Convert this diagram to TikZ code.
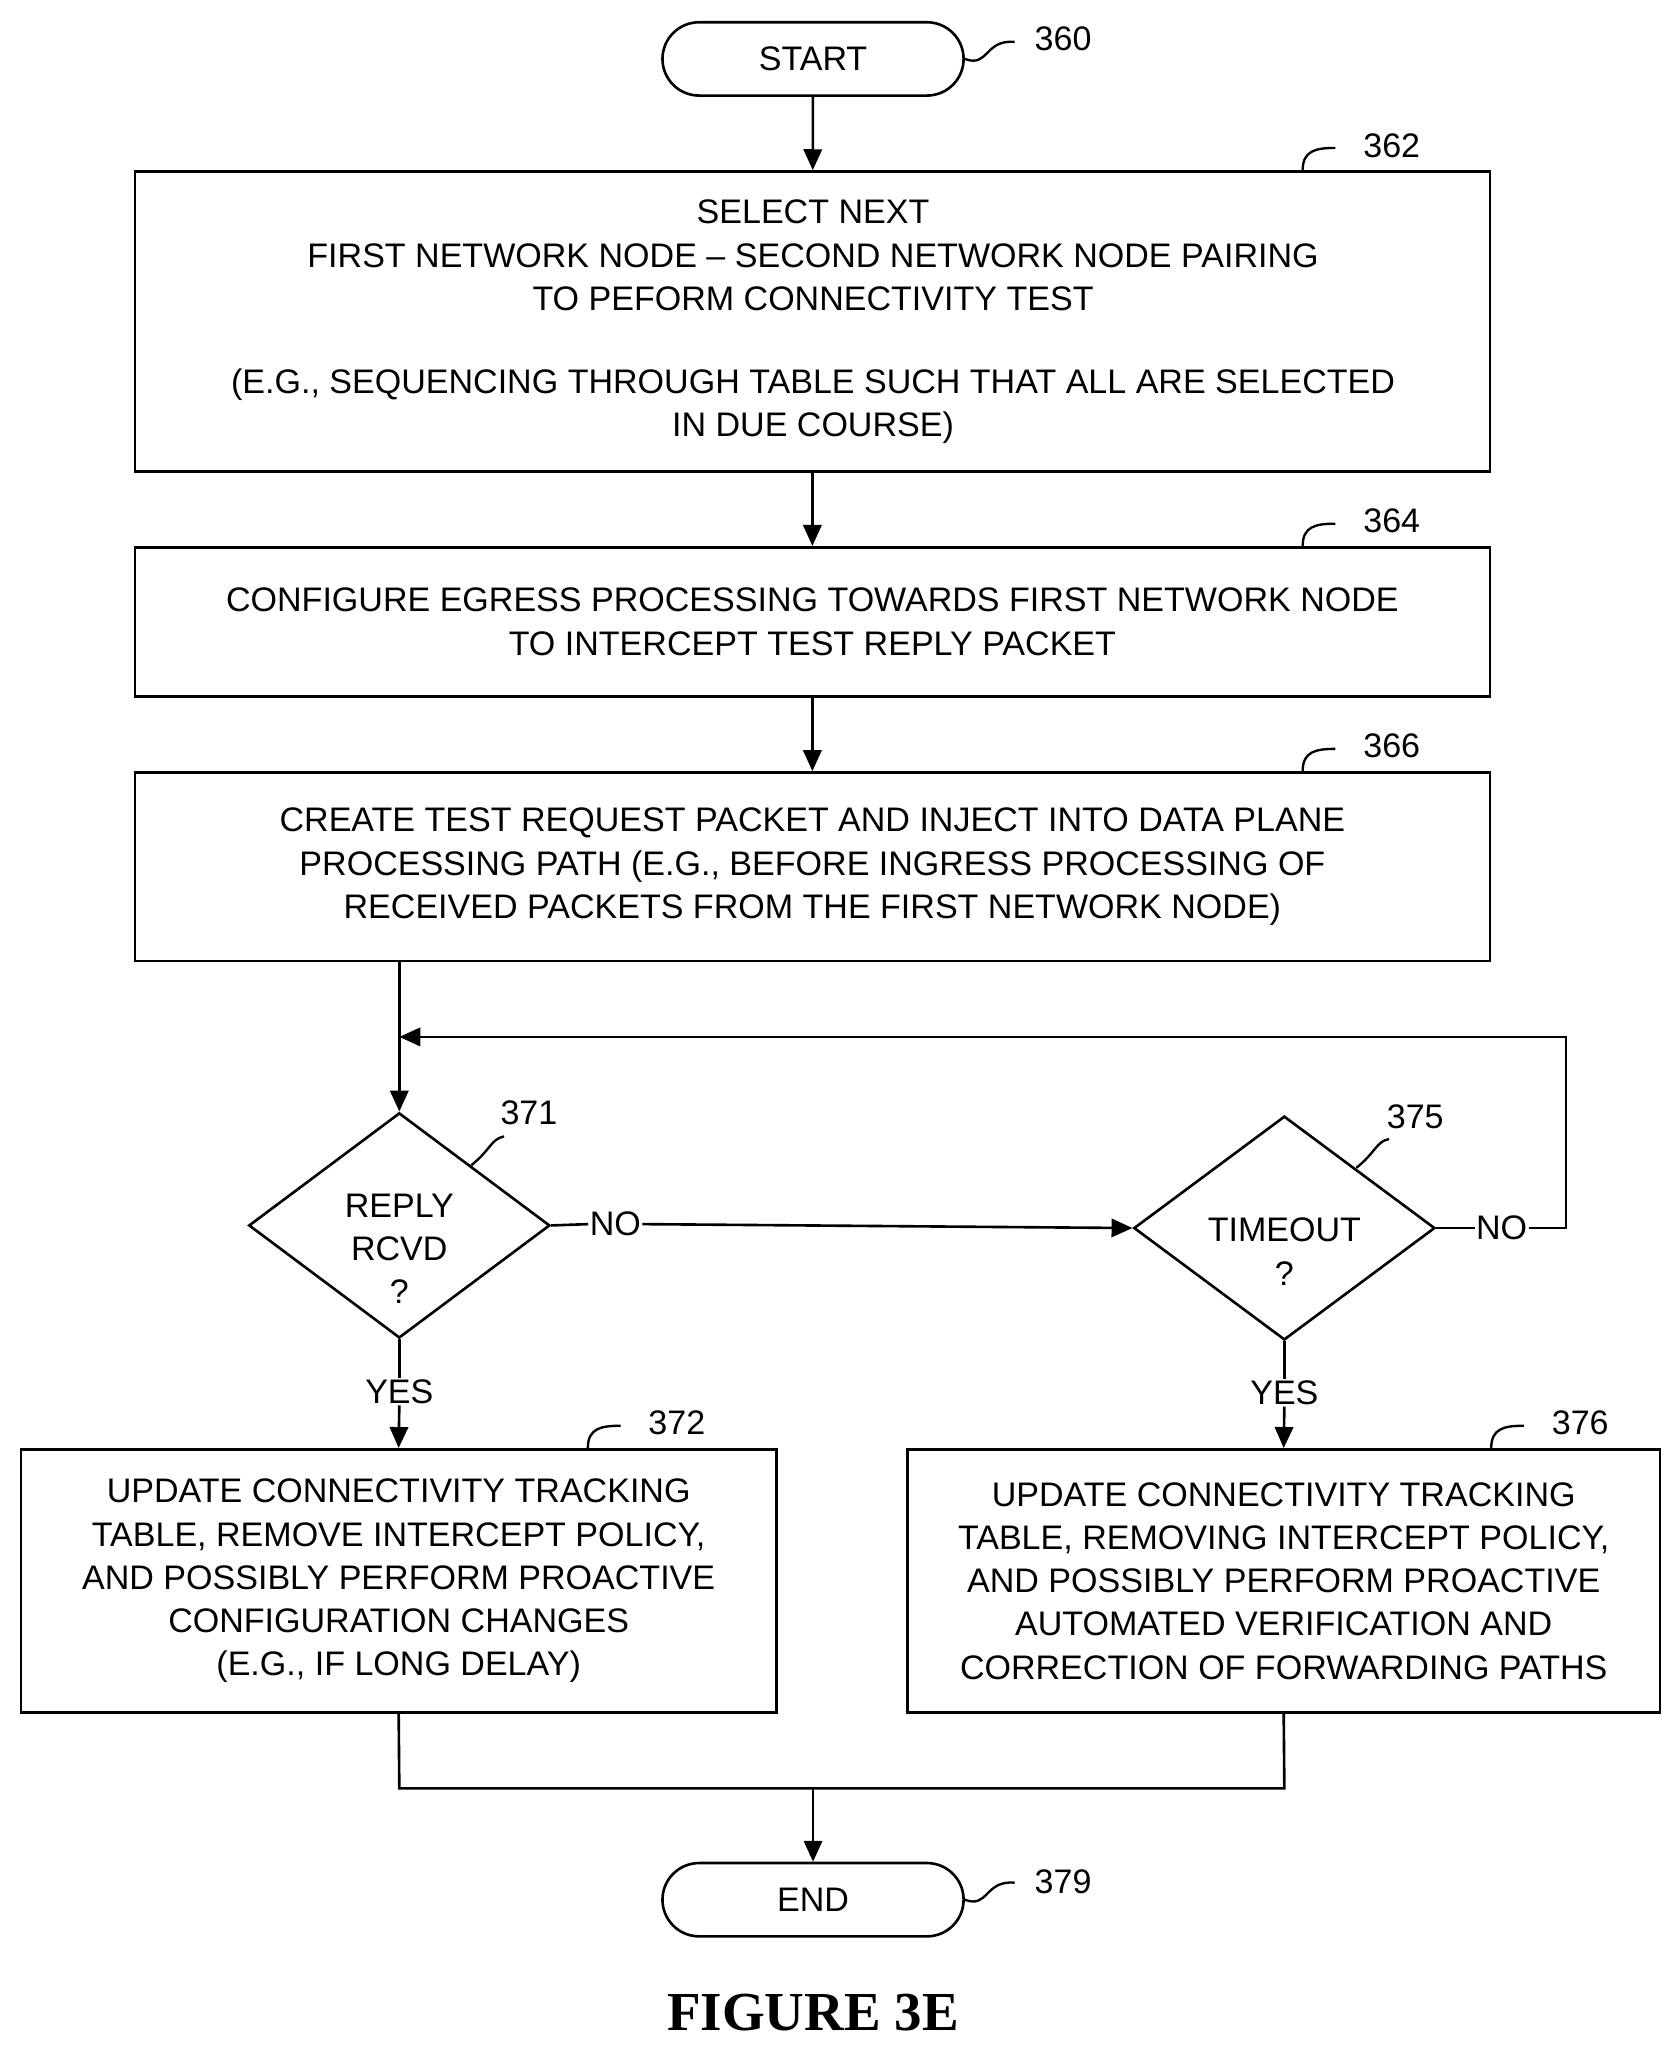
\documentclass[tikz,border=0pt]{standalone}
\usepackage{fontspec}
\setmainfont{Liberation Sans}
\newfontfamily\figfont{Liberation Serif}
\usetikzlibrary{shapes.geometric,arrows.meta}
\begin{document}
\begin{tikzpicture}[x=1pt,y=-1pt,
  txt/.style={font=\fontsize{26}{33}\selectfont,align=center,inner sep=0},
  box/.style={draw,line width=2pt},
  arr/.style={line width=2pt,-{Triangle[length=16pt,width=14pt]}},
  ln/.style={line width=2pt},
  lead/.style={line width=1.8pt},
  lab/.style={font=\fontsize{26}{30}\selectfont,inner sep=0}]
\useasboundingbox (0,0) rectangle (1280,1562);
% start
\node[draw,line width=2pt,rounded corners=28pt,minimum width=230pt,minimum height=56pt,txt] (start) at (621,45) {START};
\node[lab] (l360) at (812,30) {360};
\draw[lead] (start.east) .. controls (755,52) and (752,30) .. (775,32);
% box 362
\draw[box] (103,131) rectangle (1138,360);
\node[box,draw=none,minimum width=1035pt,minimum height=229pt] (b362) at (620.5,245.5) {};
\node[txt] (t362) at (621,195) {SELECT NEXT\\FIRST NETWORK NODE -- SECOND NETWORK NODE PAIRING\\TO PEFORM CONNECTIVITY TEST};
\node[txt] (t362b) at (621,310) {(E.G., SEQUENCING THROUGH TABLE SUCH THAT ALL ARE SELECTED\\IN DUE COURSE)};
\node[lab] (l362) at (1063,111) {362};
\draw[lead] (995,130) .. controls (995,115) and (1005,113) .. (1020,113);
% box 364
\node[box,minimum width=1035pt,minimum height=114pt,txt] (b364) at (620.5,475) {CONFIGURE EGRESS PROCESSING TOWARDS FIRST NETWORK NODE\\TO INTERCEPT TEST REPLY PACKET};
\node[lab] (l364) at (1063,398) {364};
\draw[lead] (995,417) .. controls (995,402) and (1005,400) .. (1020,400);
% box 366
\node[box,minimum width=1035pt,minimum height=144pt,txt] (b366) at (620.5,662) {CREATE TEST REQUEST PACKET AND INJECT INTO DATA PLANE\\PROCESSING PATH (E.G., BEFORE INGRESS PROCESSING OF\\RECEIVED PACKETS FROM THE FIRST NETWORK NODE)};
\node[lab] (l366) at (1063,570) {366};
\draw[lead] (995,589) .. controls (995,574) and (1005,572) .. (1020,572);
% diamonds
\node[draw,line width=2pt,diamond,aspect=1.337,minimum width=230pt,minimum height=172pt,inner sep=0] (d371) at (305,936) {};
\node[txt] at (305,954) {REPLY\\RCVD\\?};
\node[lab] (l371) at (404,850) {371};
\draw[lead] (360,890) .. controls (375,878) and (375,870) .. (385,868);
\node[draw,line width=2pt,diamond,aspect=1.345,minimum width=230pt,minimum height=171pt,inner sep=0] (d375) at (981,938) {};
\node[txt] at (981,956) {TIMEOUT\\?};
\node[lab] (l375) at (1081,853) {375};
\draw[lead] (1036,892) .. controls (1051,880) and (1051,872) .. (1061,870);
% boxes 372 376
\node[box,minimum width=577pt,minimum height=201pt,txt] (b372) at (304.5,1207.5) {UPDATE CONNECTIVITY TRACKING\\TABLE, REMOVE INTERCEPT POLICY,\\AND POSSIBLY PERFORM PROACTIVE\\CONFIGURATION CHANGES\\(E.G., IF LONG DELAY)};
\node[lab] (l372) at (517,1087) {372};
\draw[lead] (449,1106) .. controls (449,1091) and (459,1089) .. (474,1089);
\node[box,minimum width=575pt,minimum height=201pt,txt] (b376) at (980.5,1207.5) {UPDATE CONNECTIVITY TRACKING\\TABLE, REMOVING INTERCEPT POLICY,\\AND POSSIBLY PERFORM PROACTIVE\\AUTOMATED VERIFICATION AND\\CORRECTION OF FORWARDING PATHS};
\node[lab] (l376) at (1207,1087) {376};
\draw[lead] (1139,1106) .. controls (1139,1091) and (1149,1089) .. (1164,1089);
% end
\node[draw,line width=2pt,rounded corners=28pt,minimum width=230pt,minimum height=56pt,txt] (end) at (621,1451) {END};
\node[lab] (l379) at (812,1437) {379};
\draw[lead] (end.east) .. controls (755,1458) and (752,1436) .. (775,1438);
% connectors
\draw[arr] (start) -- (b362);
\draw[arr] (b362) -- (b364);
\draw[arr] (b364) -- (b366);
\draw[arr] (305,734) -- (d371.north);
\node[lab,fill=white,inner sep=1pt] (no1) at (470,935) {NO};
\draw[ln] (d371.east) -- (no1.west);
\draw[arr] (no1.east) -- (d375.west);
\node[lab,fill=white,inner sep=1pt] (no2) at (1147,938) {NO};
\coordinate (c1) at (1196,938);
\coordinate (c2) at (1196,792);
\coordinate (c3) at (305,792);
\draw[ln] (d375.east) -- (no2.west);
\draw[arr] (no2.east) -- (c1) -- (c2) -- (c3);
\node[lab,fill=white,inner sep=1pt] (yes1) at (305,1063) {YES};
\draw[ln] (d371.south) -- (yes1.north);
\draw[arr] (yes1.south) -- (b372.north);
\node[lab,fill=white,inner sep=1pt] (yes2) at (981,1064) {YES};
\draw[ln] (d375.south) -- (yes2.north);
\draw[arr] (yes2.south) -- (b376.north);
\coordinate (m1) at (305,1366);
\coordinate (m2) at (981,1366);
\coordinate (m) at (621,1366);
\draw[ln] (b372.south) -- (m1) -- (m2) -- (b376.south);
\draw[arr] (m) -- (end.north);
\node[font=\figfont\bfseries\fontsize{42}{46}\selectfont] (fig) at (621,1537) {FIGURE 3E};
\end{tikzpicture}
\end{document}
